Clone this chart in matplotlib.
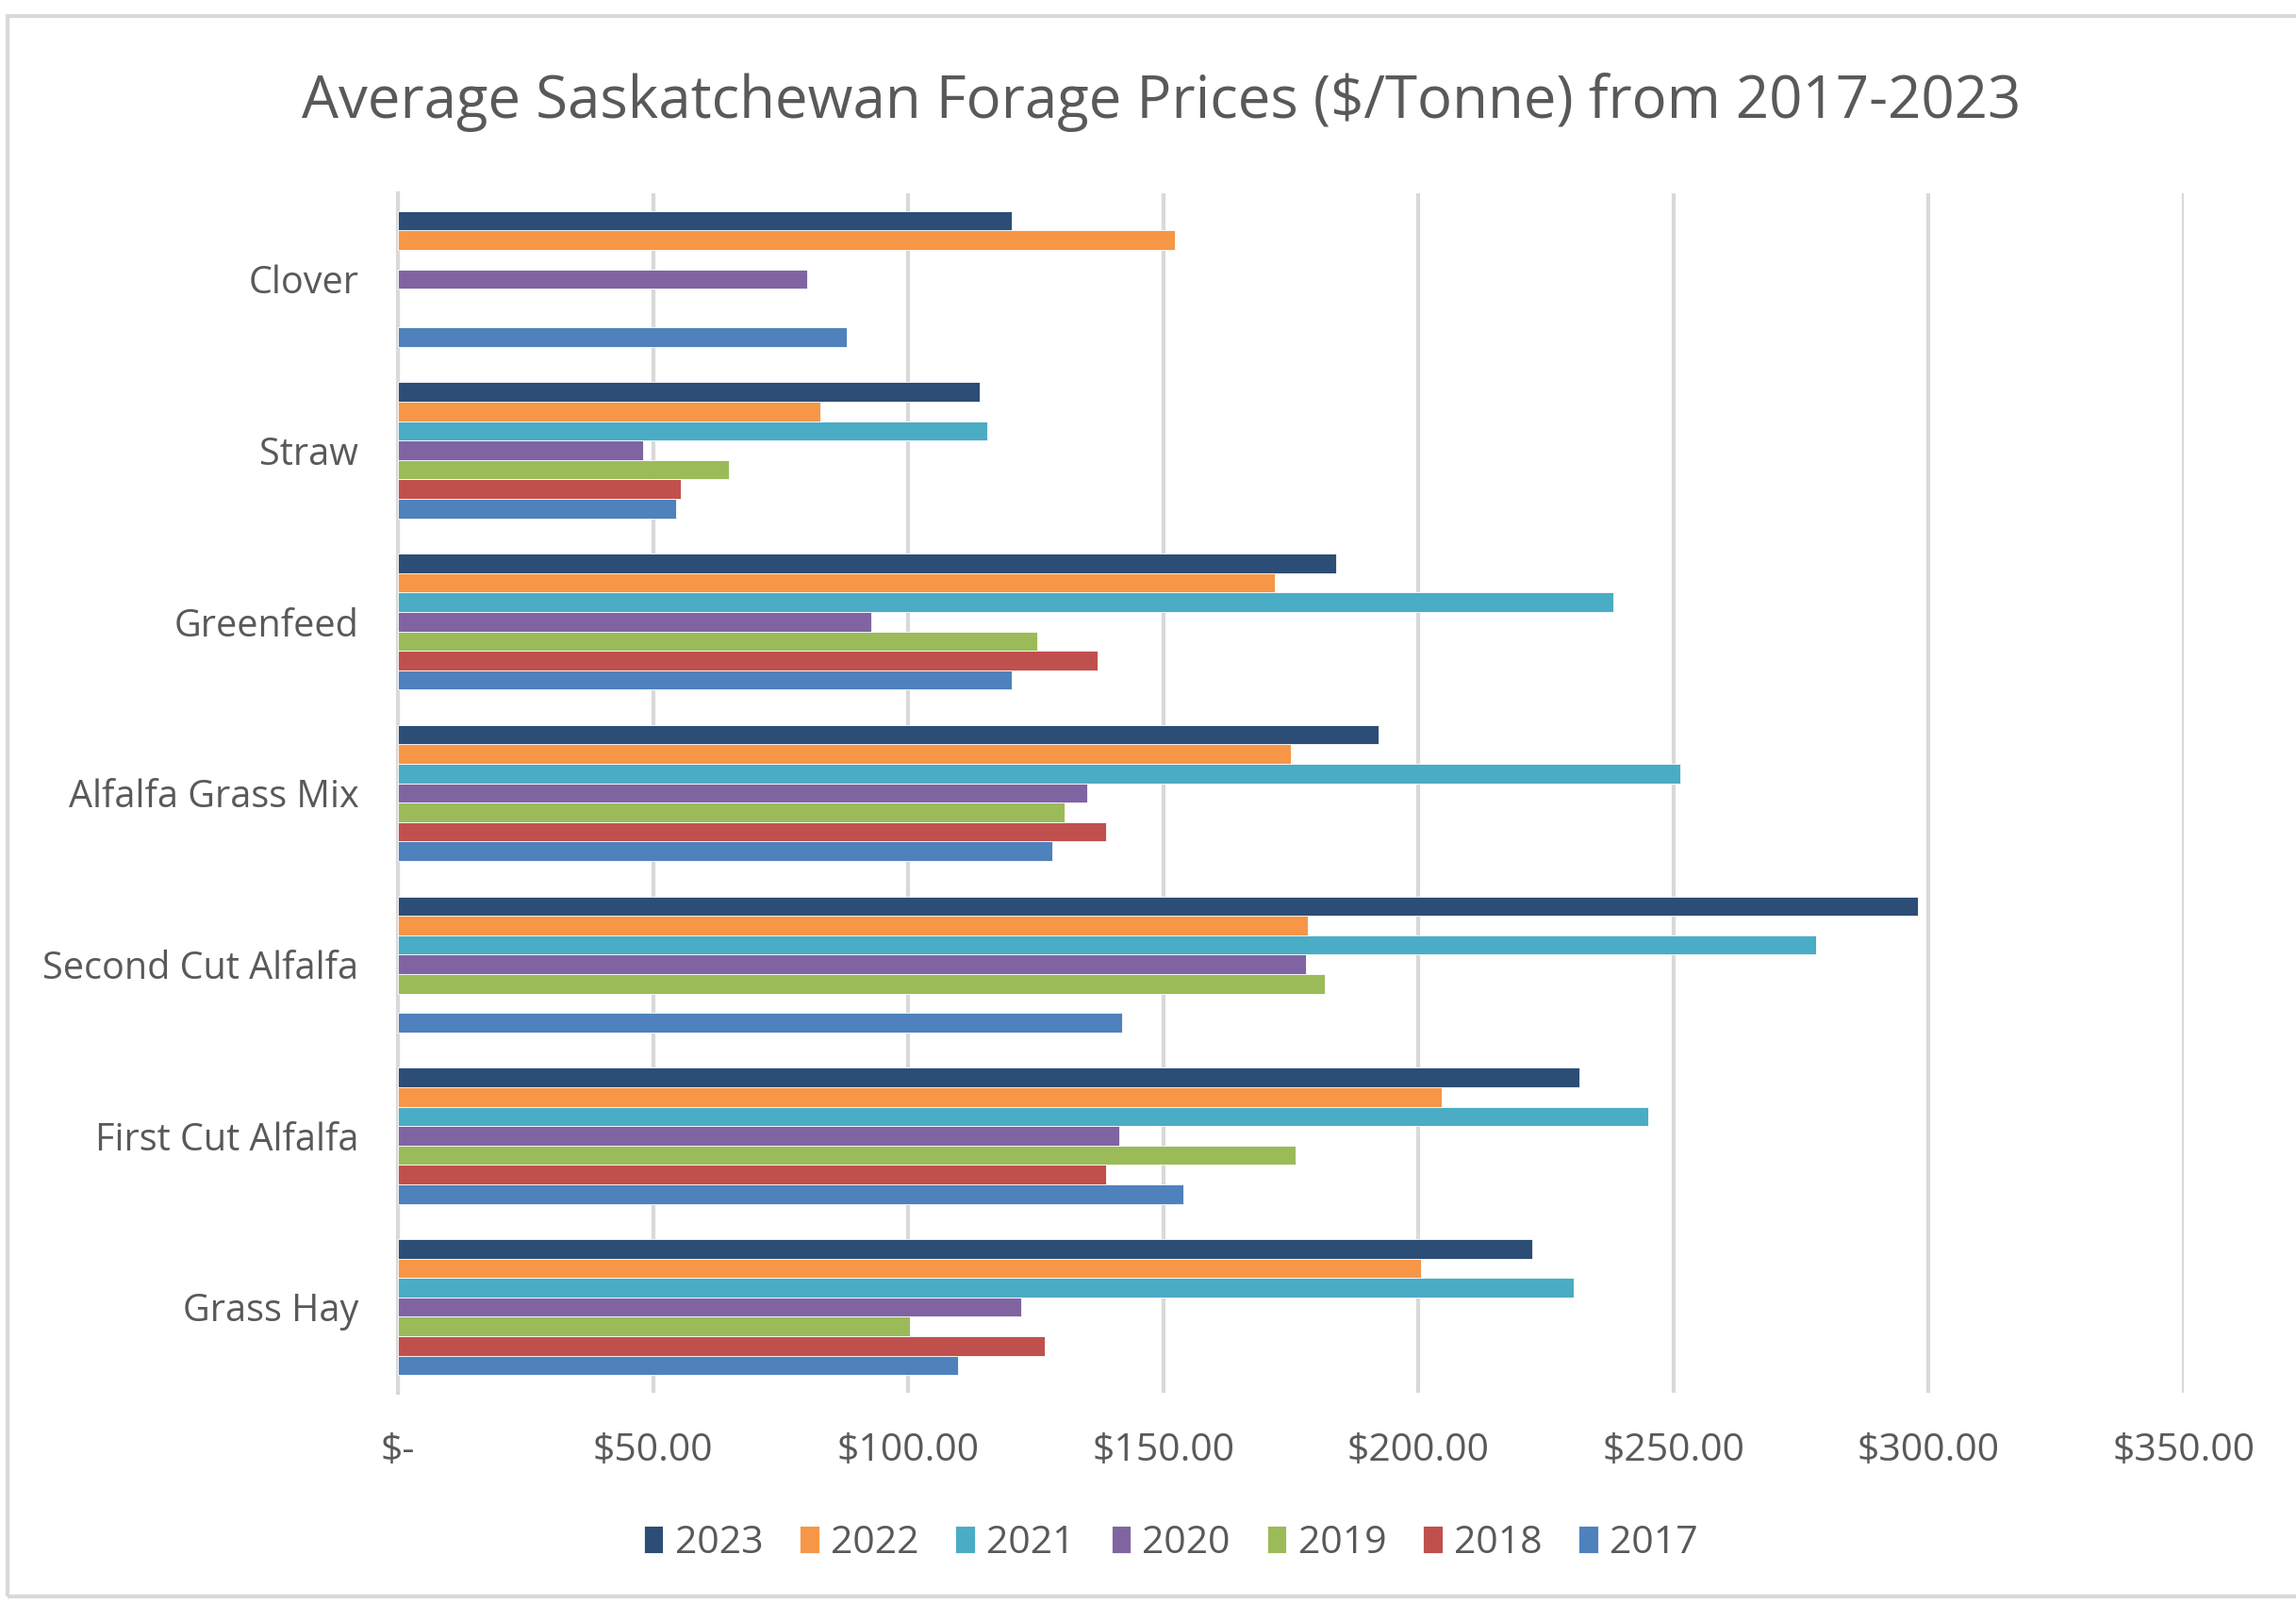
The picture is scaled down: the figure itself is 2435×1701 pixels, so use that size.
import numpy as np
import matplotlib
matplotlib.use('Agg')
import matplotlib.pyplot as plt
from matplotlib.ticker import FuncFormatter
from matplotlib.patches import Rectangle

plt.rcParams['font.family'] = ['Open Sans', 'DejaVu Sans']

# categories bottom -> top (as Excel draws them)
categories = ['Grass Hay', 'First Cut Alfalfa', 'Second Cut Alfalfa',
              'Alfalfa Grass Mix', 'Greenfeed', 'Straw', 'Clover']
years = ['2017', '2018', '2019', '2020', '2021', '2022', '2023']

nan = np.nan
p2017 = [109.8, 154.0, 142.0, 128.2, 120.4, 54.6, 87.9]
p2018 = [126.7, 138.8, nan, 138.8, 137.1, 55.5, nan]
p2019 = [100.3, 175.9, 181.6, 130.7, 125.3, 64.9, nan]
p2020 = [122.1, 141.4, 177.9, 135.1, 92.8, 48.0, 80.2]
p2021 = [230.5, 245.1, 277.9, 251.4, 238.2, 115.5, nan]
p2022 = [200.6, 204.6, 178.4, 175.0, 171.8, 82.8, 152.3]
p2023 = [222.4, 231.6, 298.0, 192.2, 183.9, 114.1, 120.4]

series = [p2017, p2018, p2019, p2020, p2021, p2022, p2023]
colors = ['#4F81BD', '#C0504D', '#9BBB59', '#8064A2', '#4BACC6', '#F79646', '#2C4D75']

txt = '#595959'
grid = '#D9D9D9'

fig = plt.figure(figsize=(24.35, 17.01), dpi=100)
ax = fig.add_axes([0.1733, 0.1317, 0.9510 - 0.1733, 0.8795 - 0.1317])

n = len(series)
h = 1.0 / (n + 1.82)
y = np.arange(len(categories))
bars = []
for j, (vals, c) in enumerate(zip(series, colors)):
    b = ax.barh(y + (j - (n - 1) / 2) * h, vals, height=h, color=c,
                edgecolor='white', linewidth=0.6, zorder=3)
    bars.append(b)

ax.set_xlim(0, 350)
ax.set_ylim(-0.5, len(categories) - 0.5)
ax.set_xticks(np.arange(0, 351, 50))
ax.xaxis.set_major_formatter(FuncFormatter(lambda v, p: '$-' if v == 0 else '${:.2f}'.format(v)))
ax.set_yticks(y)
ax.set_yticklabels(categories)
ax.grid(axis='x', color=grid, linewidth=3, zorder=0)
for s in ['top', 'right', 'bottom']:
    ax.spines[s].set_visible(False)
ax.spines['left'].set_color(grid)
ax.spines['left'].set_linewidth(3)
ax.tick_params(axis='both', length=0, labelcolor=txt)
ax.tick_params(axis='x', pad=30, labelsize=29.5)
ax.tick_params(axis='y', pad=30, labelsize=28.5)

fig.text(0.506, 0.936, 'Average Saskatchewan Forage Prices ($/Tonne) from 2017-2023',
         ha='center', va='center', fontsize=44.5, color=txt)

leg = fig.legend(bars[::-1], years[::-1], loc='center', bbox_to_anchor=(0.51, 0.038),
                 ncol=7, frameon=False, fontsize=29.5, labelcolor=txt,
                 handlelength=0.5, handleheight=0.7, handletextpad=0.3, columnspacing=0.95)

fig.patches.append(Rectangle((8 / 2435, 8 / 1701), 1.0, 1 - 25 / 1701,
                             transform=fig.transFigure, fill=False,
                             edgecolor=grid, linewidth=3))

fig.savefig('out.png', dpi=100, facecolor='white')
